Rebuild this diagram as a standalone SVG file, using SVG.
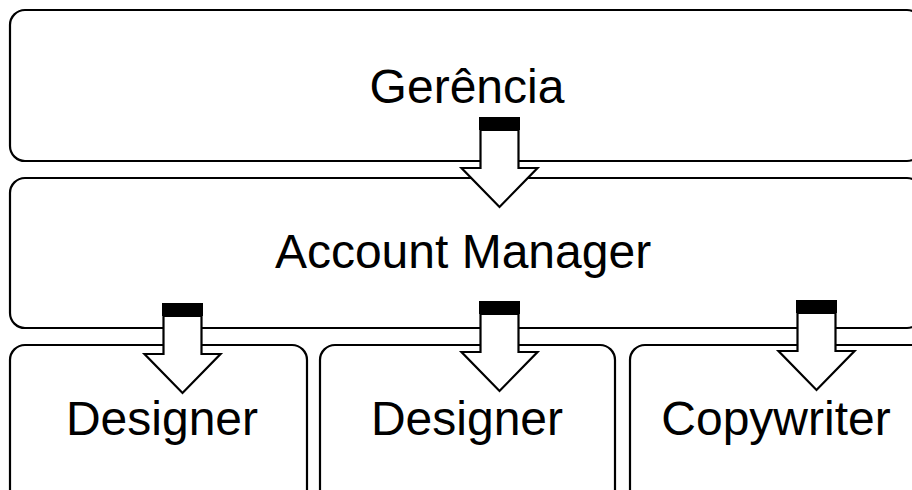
<svg xmlns="http://www.w3.org/2000/svg" width="912" height="490" viewBox="0 0 912 490">
<style>
.box{fill:#fff;stroke:#000;stroke-width:2.2}
.lbl{font-family:"Liberation Sans",Arial,sans-serif;font-size:48px;fill:#000;text-anchor:middle}
.shaft{fill:#fff;stroke:#000;stroke-width:2.2;stroke-linejoin:miter}
.bar{fill:#000}
</style>
<defs>
<g id="arrow">
<polygon class="shaft" points="-19,13 -19,51 -38,51 0,90 38,51 19,51 19,13"/>
<rect class="bar" x="-20.5" y="0" width="41" height="13"/>
</g>
</defs>
<rect width="912" height="490" fill="#fff"/>
<g id="gerencia">
<rect class="box" x="10" y="10" width="912" height="151" rx="15"/>
<text class="lbl" x="467" y="103">Gerência</text>
</g>
<g id="account-manager">
<rect class="box" x="10" y="178" width="912" height="150" rx="15"/>
<text class="lbl" x="463" y="268">Account Manager</text>
</g>
<g id="designer-1">
<rect class="box" x="10" y="345" width="297" height="160" rx="15"/>
<text class="lbl" x="162" y="435">Designer</text>
</g>
<g id="designer-2">
<rect class="box" x="320" y="345" width="295" height="160" rx="15"/>
<text class="lbl" x="467" y="435">Designer</text>
</g>
<g id="copywriter">
<rect class="box" x="630" y="345" width="300" height="160" rx="15"/>
<text class="lbl" x="776" y="435">Copywriter</text>
</g>
<g id="connectors">
<use href="#arrow" x="499.5" y="117"/>
<use href="#arrow" x="182.5" y="303"/>
<use href="#arrow" x="499.5" y="301"/>
<use href="#arrow" x="816.5" y="300"/>
</g>
</svg>
